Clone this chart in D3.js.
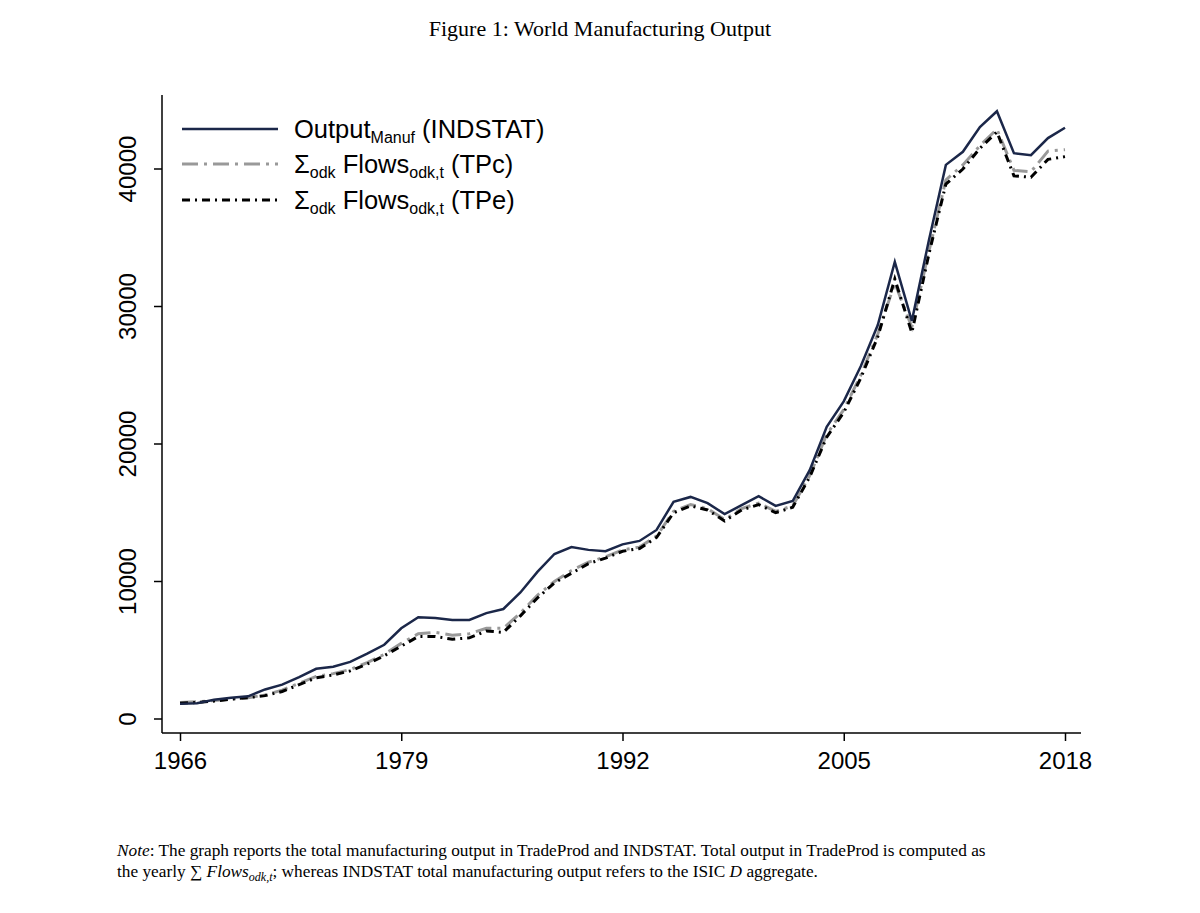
<!DOCTYPE html>
<html><head><meta charset="utf-8">
<script src="https://cdn.jsdelivr.net/npm/d3@7"></script>
<style>body{margin:0;background:#fff}svg{display:block}</style>
</head><body>
<svg id="c" width="1200" height="913"></svg>
<script>
const years = d3.range(1966, 2019);
const indstat = [1100,1150,1400,1550,1650,2150,2500,3050,3650,3800,4150,4750,5400,6600,7400,7350,7200,7200,7700,8000,9200,10700,12000,12500,12300,12200,12700,12950,13750,15800,16150,15700,14900,15550,16200,15500,15850,18100,21250,23100,25650,28650,33250,28950,34800,40300,41250,43050,44200,41150,41000,42250,43000];
const tpc = [1200,1250,1350,1450,1550,1750,2100,2600,3100,3300,3600,4100,4700,5500,6200,6300,6100,6200,6600,6600,7700,9000,10000,10800,11400,11800,12300,12500,13300,15100,15600,15300,14500,15300,15700,15100,15500,17700,20700,22500,25000,28000,31700,28500,34000,39200,40300,41700,42900,39900,39800,41300,41400];
const tpe = [1150,1200,1300,1450,1550,1700,2000,2500,3000,3200,3500,4000,4600,5300,6000,6000,5800,5900,6400,6300,7500,8800,9900,10600,11300,11700,12200,12400,13200,15000,15500,15200,14400,15200,15600,15000,15400,17600,20500,22300,24800,27800,32000,28100,33800,38900,40000,41500,42700,39500,39400,40700,40900];
const xTicks = [1966,1979,1992,2005,2018];
const yTicks = [0,10000,20000,30000,40000];

const svg = d3.select("#c");
const x = d3.scaleLinear().domain([1966,2018]).range([180,1065]);
const y = d3.scaleLinear().domain([0,40000]).range([719,169]);
const serif = "'Liberation Serif','DejaVu Serif',serif";
const sans = "'Liberation Sans',Arial,sans-serif";

svg.append("text").attr("x",600).attr("y",36).attr("text-anchor","middle")
  .style("font-family",serif).style("font-size","22px").text("Figure 1: World Manufacturing Output");

const xa = svg.append("g").attr("transform","translate(0,733)")
  .call(d3.axisBottom(x).tickValues(xTicks).tickFormat(d3.format("d")).tickSize(8).tickSizeOuter(0));
xa.select(".domain").attr("d","M162,0H1081");
xa.selectAll("text").style("font-family",sans).style("font-size","24px").attr("dy","1.05em").attr("fill","#000");
const ya = svg.append("g").attr("transform","translate(162,0)")
  .call(d3.axisLeft(y).tickValues(yTicks).tickFormat(d3.format("d")).tickSize(8).tickSizeOuter(0));
ya.select(".domain").attr("d","M0,95V733");
ya.selectAll("text").style("font-family",sans).style("font-size","24px").attr("fill","#000")
  .attr("text-anchor","middle").attr("x",0).attr("dy",0)
  .attr("transform",d=>`translate(-26,${y(d)}) rotate(-90)`).attr("y",0);
ya.selectAll(".tick").attr("transform",null);
ya.selectAll(".tick line").attr("transform",d=>`translate(0,${y(d)})`);
svg.selectAll(".domain,.tick line").attr("stroke","#000").attr("stroke-width",1.5);

const line = arr => d3.line().x((d,i)=>x(years[i])).y(d=>y(d))(arr);
const series = [
  {data:tpc, color:"#999", dash:"16,6,3,6", w:3},
  {data:tpe, color:"#000", dash:"8,5,2,5", w:3},
  {data:indstat, color:"#1b2749", dash:null, w:2.5}
];
series.forEach(s=>{
  svg.append("path").attr("d",line(s.data)).attr("fill","none").attr("stroke",s.color)
    .attr("stroke-width",s.w).attr("stroke-dasharray",s.dash);
});

const leg = [
  {color:"#1b2749",dash:null,w:2.5,y:129,parts:[["Output",0],["Manuf",1],[" (INDSTAT)",0]]},
  {color:"#999",dash:"16,6,3,6",w:3,y:164,parts:[["Σ",0],["odk",1],[" Flows",0],["odk,t",1],[" (TPc)",0]]},
  {color:"#000",dash:"8,5,2,5",w:3,y:200,parts:[["Σ",0],["odk",1],[" Flows",0],["odk,t",1],[" (TPe)",0]]}
];
leg.forEach(l=>{
  svg.append("line").attr("x1",182).attr("x2",278).attr("y1",l.y).attr("y2",l.y)
    .attr("stroke",l.color).attr("stroke-width",l.w).attr("stroke-dasharray",l.dash);
  const t = svg.append("text").attr("x",294).attr("y",l.y+9).style("font-family",sans).style("font-size","25.5px");
  l.parts.forEach((p,i)=>{
    const ts = t.append("tspan").text(p[0]);
    if(p[1]) ts.style("font-size","16px").attr("dy",5);
    else ts.attr("dy", (i>0 && l.parts[i-1][1]) ? -5 : 0);
  });
});

const note = svg.append("text").style("font-family",serif).style("font-size","17.3px");
const n1 = note.append("tspan").attr("x",117).attr("y",856);
n1.append("tspan").style("font-style","italic").text("Note");
n1.append("tspan").text(": The graph reports the total manufacturing output in TradeProd and INDSTAT. Total output in TradeProd is computed as");
const n2 = note.append("tspan").attr("x",117).attr("y",877);
n2.append("tspan").text("the yearly ∑ ");
n2.append("tspan").style("font-style","italic").text("Flows");
n2.append("tspan").style("font-style","italic").style("font-size","12px").attr("dy",4).text("odk,t");
n2.append("tspan").attr("dy",-4).text("; whereas INDSTAT total manufacturing output refers to the ISIC ");
n2.append("tspan").style("font-style","italic").text("D");
n2.append("tspan").text(" aggregate.");
</script>
</body></html>
